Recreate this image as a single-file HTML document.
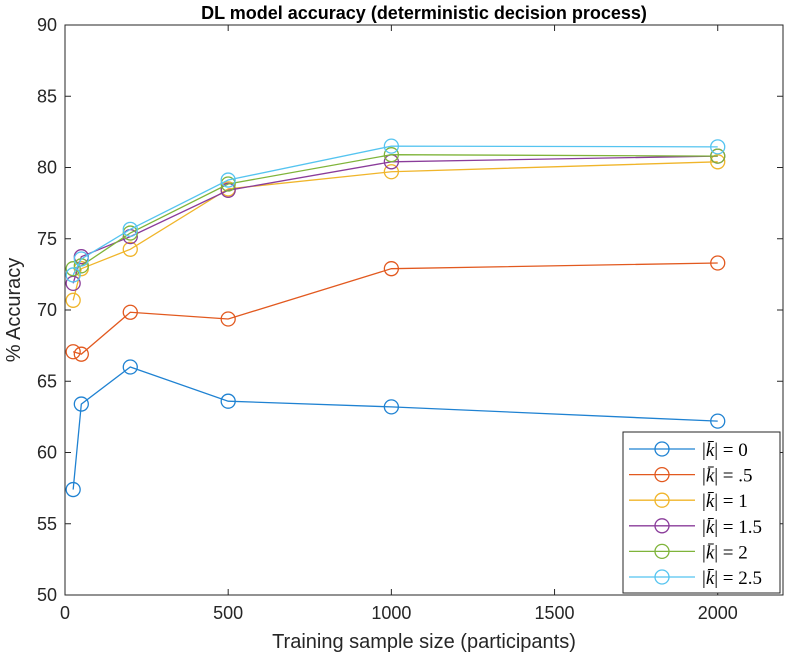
<!DOCTYPE html>
<html><head><meta charset="utf-8"><style>
body{margin:0;background:#fff;}
svg text{font-family:"Liberation Sans",sans-serif;fill:#262626;}
svg text.serif{font-family:"Liberation Serif",serif;fill:#000;}
</style></head><body>
<svg id="chart" width="786" height="665" viewBox="0 0 786 665" xmlns="http://www.w3.org/2000/svg">
<rect x="0" y="0" width="786" height="665" fill="#fff"/>
<text x="424" y="19" text-anchor="middle" font-size="18" font-weight="bold" style="fill:#000">DL model accuracy (deterministic decision process)</text>
<g id="grid"></g>
<g id="series"></g>
<g id="legend"></g>
<text x="424" y="648" text-anchor="middle" font-size="20">Training sample size (participants)</text>
<text transform="translate(20,310) rotate(-90)" text-anchor="middle" font-size="20">% Accuracy</text>
</svg>
<script>
const xValues=[25,50,200,500,1000,2000];
const seriesK0=[57.4,63.4,66.0,63.6,63.2,62.2];
const seriesK05=[67.07,66.9,69.84,69.37,72.9,73.3];
const seriesK1=[70.68,72.9,74.26,78.5,79.7,80.4];
const seriesK15=[71.87,73.74,75.15,78.4,80.4,80.8];
const seriesK2=[72.9,73.1,75.4,78.84,80.9,80.8];
const seriesK25=[72.46,73.58,75.66,79.12,81.5,81.45];
const seriesLabels=["= 0","= .5","= 1","= 1.5","= 2","= 2.5"];
const xTicks=[0,500,1000,1500,2000];
const yTicks=[50,55,60,65,70,75,80,85,90];
const allSeries=[seriesK0,seriesK05,seriesK1,seriesK15,seriesK2,seriesK25];
const colors=["#1f82d2","#e2591f","#f0b52a","#8a3c9a","#7fb43a","#55c4f0"];
const L=65,R=783,T=25,B=595,XMAX=2200,YMIN=50,YMAX=90;
const sx=v=>L+(v/XMAX)*(R-L);
const sy=v=>B-(v-YMIN)/(YMAX-YMIN)*(B-T);
const NS="http://www.w3.org/2000/svg";
function mk(tag,attrs,parent){const e=document.createElementNS(NS,tag);for(const k in attrs)e.setAttribute(k,attrs[k]);parent.appendChild(e);return e;}
const grid=document.getElementById('grid');
const frame=mk('rect',{x:L,y:T,width:R-L,height:B-T,fill:'none',stroke:'#262626','stroke-width':1},grid);


xTicks.forEach(t=>{
 mk('line',{x1:sx(t),x2:sx(t),y1:B,y2:B-6,stroke:'#262626'},grid);
 mk('line',{x1:sx(t),x2:sx(t),y1:T,y2:T+6,stroke:'#262626'},grid);
 const tx=mk('text',{x:sx(t),y:B+24,'text-anchor':'middle','font-size':18},grid);tx.textContent=t;
 
 
});
yTicks.forEach(t=>{
 mk('line',{x1:L,x2:L+6,y1:sy(t),y2:sy(t),stroke:'#262626'},grid);
 mk('line',{x1:R,x2:R-6,y1:sy(t),y2:sy(t),stroke:'#262626'},grid);
 const tx=mk('text',{x:L-8,y:sy(t)+6,'text-anchor':'end','font-size':18},grid);tx.textContent=t;
 
 
});
const sg=document.getElementById('series');
allSeries.forEach((s,i)=>{
 const g=mk('g',{},sg);
 
 
 mk('polyline',{points:s.map((v,j)=>sx(xValues[j])+','+sy(v)).join(' '),fill:'none',stroke:colors[i],'stroke-width':1.3},g);
 s.forEach((v,j)=>{
  const c=mk('circle',{cx:sx(xValues[j]),cy:sy(v),r:7,fill:'none',stroke:colors[i],'stroke-width':1.3},g);
  
  
 });
});
const lg=document.getElementById('legend');


mk('rect',{x:623,y:432,width:157,height:161,fill:'#fff',stroke:'#262626','stroke-width':1},lg);
seriesLabels.forEach((lab,i)=>{
 const y=449+i*25.6;
 const e=mk('g',{},lg);
 
 
 mk('line',{x1:629,x2:695,y1:y,y2:y,stroke:colors[i],'stroke-width':1.3},e);
 mk('circle',{cx:662,cy:y,r:7,fill:'none',stroke:colors[i],'stroke-width':1.3},e);
 const t=mk('text',{x:702,y:y+7,'font-size':19,'class':'serif'},e);
 t.innerHTML='|<tspan font-style="italic">k̄</tspan>| '+lab;
});
</script>
</body></html>
